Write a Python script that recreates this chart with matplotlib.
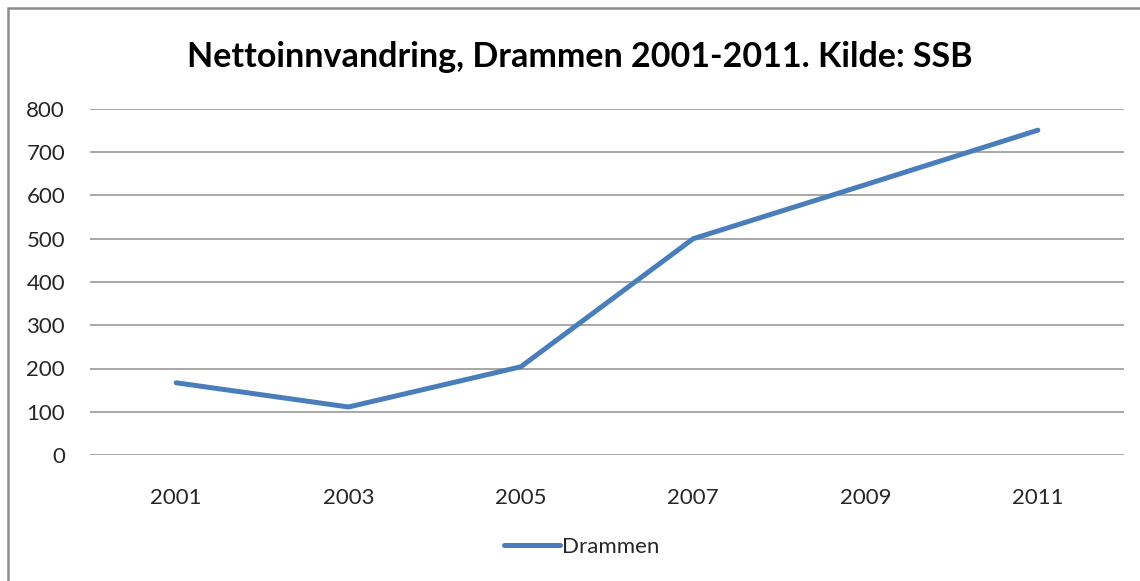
import matplotlib
matplotlib.use("Agg")
import matplotlib.pyplot as plt
from matplotlib.patches import Rectangle

# data
years = ["2001", "2003", "2005", "2007", "2009", "2011"]
drammen = [167, 111, 204, 500, 625, 751]
yticks = [0, 100, 200, 300, 400, 500, 600, 700, 800]

plt.rcParams['font.family'] = ['Lato', 'DejaVu Sans']

fig = plt.figure(figsize=(11.4, 5.81), dpi=100)
ax = fig.add_axes([90 / 1140, 1 - 455 / 581, (1124 - 90) / 1140, (455 - 109) / 581])

x = list(range(len(years)))
ax.plot(x, drammen, color='#4A7EBB', lw=3.6, solid_capstyle='round',
        solid_joinstyle='miter', label='Drammen', zorder=3)

ax.set_xlim(-0.5, len(years) - 0.5)
ax.set_ylim(0, 800)
ax.set_yticks(yticks)
ax.set_yticklabels([str(v) for v in yticks])
ax.set_xticks(x)
ax.set_xticklabels(years)
ax.tick_params(axis='both', length=0, labelsize=16, colors='#262626')
ax.tick_params(axis='y', pad=18)
ax.tick_params(axis='x', pad=24)
ax.yaxis.grid(True, color='#A0A0A0', lw=1.3)
ax.set_axisbelow(True)
for s in ax.spines.values():
    s.set_visible(False)

fig.text(580 / 1140, 1 - 57 / 581, 'Nettoinnvandring, Drammen 2001-2011. Kilde: SSB',
         ha='center', va='center', fontsize=24.5, fontweight='bold', color='black')

fig.legend(loc='center', bbox_to_anchor=(582 / 1140, 1 - 547 / 581), frameon=False,
           fontsize=16, handlelength=2.5, handletextpad=0.1, labelcolor='#262626')

# chart frame (right and bottom edges fall outside the picture)
fig.patches.append(Rectangle((8 / 1140, -0.05), 1.2, 1 - 8 / 581 + 0.05,
                             transform=fig.transFigure, fill=False,
                             edgecolor='#8C8C8C', lw=1.8))

fig.savefig('out.png', dpi=100)
